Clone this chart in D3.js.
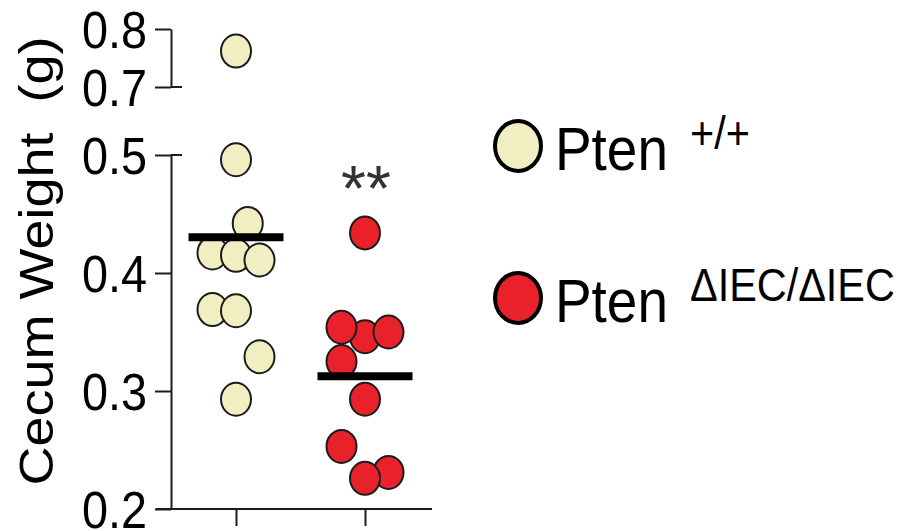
<!DOCTYPE html>
<html>
<head>
<meta charset="utf-8">
<script src="https://cdn.jsdelivr.net/npm/d3@7"></script>
<style>
  html, body { margin: 0; padding: 0; background: #fff; }
  text { font-family: "Liberation Sans", Arial, sans-serif; }
</style>
</head>
<body>
<div id="chart"></div>
<script>
// cecum weight (g), listed in drawing order
var groups = ["Pten +/+", "Pten ΔIEC/ΔIEC"];
var wtValues = [0.762, 0.496, 0.442, 0.417, 0.415, 0.411, 0.369, 0.368, 0.329, 0.293];
var wtSlots  = [0, 0, 0.5, -1, 0, 1, -1, 0, 1, 0];
var koValues = [0.434, 0.346, 0.354, 0.350, 0.325, 0.293, 0.253, 0.231, 0.226];
var koSlots  = [0, 0, -1, 1, -1, 0, -1, 1, 0];
var lowTicks = [0.2, 0.3, 0.4, 0.5];
var highTicks = [0.7, 0.8];
var legendSup = ["+/+", "ΔIEC/ΔIEC"];
var fills = ["#f1efc1", "#e8212a"];

var W = 899, H = 531;
var ink = "#1c1c1c";
var sx = 0.9; // glyphs in the figure are a bit narrow

var svg = d3.select("#chart").append("svg")
  .attr("width", W).attr("height", H);

// broken y axis: two linear pieces
var yLow = d3.scaleLinear().domain([0.2, 0.5]).range([509, 155]);
var yHigh = d3.scaleLinear().domain([0.7, 0.8]).range([87, 29]);
function y(v){ return v >= 0.6 ? yHigh(v) : yLow(v); }

var x = d3.scalePoint().domain(groups).range([236, 365]);
var slotW = 23.5;

var axisX = 171;

function styleAxis(g){
  g.select(".domain").attr("stroke", ink).attr("stroke-width", 2);
  g.selectAll(".tick line").attr("stroke", ink).attr("stroke-width", 2);
  g.selectAll(".tick text")
    .attr("fill", "#000")
    .attr("font-size", 52)
    .attr("dy", "0.355em")
    .attr("x", -24 / sx)
    .attr("transform", "scale(" + sx + ",1)");
}

var fmt = d3.format(".1f");
svg.append("g")
  .attr("transform", "translate(" + axisX + ",0)")
  .call(d3.axisLeft(yLow).tickValues(lowTicks).tickSize(16).tickSizeOuter(0).tickFormat(fmt))
  .call(styleAxis);

svg.append("g")
  .attr("transform", "translate(" + axisX + ",0)")
  .call(d3.axisLeft(yHigh).tickValues(highTicks).tickSize(16).tickSizeOuter(0).tickFormat(fmt))
  .call(styleAxis);

// break caps on the inside of the axis
[yLow(0.5), yHigh(0.7)].forEach(function(cy){
  svg.append("line")
    .attr("x1", axisX).attr("x2", axisX + 11)
    .attr("y1", cy).attr("y2", cy)
    .attr("stroke", ink).attr("stroke-width", 2);
});

// x axis
var gx = svg.append("g")
  .attr("transform", "translate(0," + yLow(0.2) + ")")
  .call(d3.axisBottom(x).tickSize(17).tickSizeOuter(0).tickFormat(""));
gx.select(".domain").remove();
gx.selectAll(".tick line").attr("stroke", ink).attr("stroke-width", 2);
svg.append("line")
  .attr("x1", 156).attr("x2", 432)
  .attr("y1", yLow(0.2)).attr("y2", yLow(0.2))
  .attr("stroke", ink).attr("stroke-width", 2);

// y title
svg.append("text")
  .attr("transform", "translate(53,261) scale(" + sx + ",1) rotate(-90)")
  .attr("text-anchor", "middle")
  .attr("font-size", 54)
  .style("white-space", "pre")
  .text("Cecum Weight  (g)");

// points
var series = [
  { name: groups[0], values: wtValues, slots: wtSlots, fill: fills[0] },
  { name: groups[1], values: koValues, slots: koSlots, fill: fills[1] }
];

series.forEach(function(s){
  var pts = s.values.map(function(v, i){ return { v: v, slot: s.slots[i] }; });
  svg.append("g").selectAll("ellipse")
    .data(pts)
    .enter().append("ellipse")
    .attr("cx", function(d){ return x(s.name) + d.slot * slotW; })
    .attr("cy", function(d){ return y(d.v); })
    .attr("rx", 15)
    .attr("ry", 16.5)
    .attr("fill", s.fill)
    .attr("stroke", ink)
    .attr("stroke-width", 2);

  // mean bar
  var m = d3.mean(s.values);
  svg.append("line")
    .attr("x1", x(s.name) - 47.5).attr("x2", x(s.name) + 47.5)
    .attr("y1", y(m)).attr("y2", y(m))
    .attr("stroke", "#000").attr("stroke-width", 8);
});

// significance
svg.append("text")
  .attr("x", x(groups[1]) + 1).attr("y", 211)
  .attr("text-anchor", "middle")
  .attr("font-size", 64)
  .attr("fill", "#333")
  .text("**");

// legend
var legY = [146, 298];
series.forEach(function(s, i){
  var g = svg.append("g");
  g.append("ellipse")
    .attr("cx", 518).attr("cy", legY[i])
    .attr("rx", 23).attr("ry", 25)
    .attr("fill", s.fill)
    .attr("stroke", "#000")
    .attr("stroke-width", 4);
  g.append("text")
    .attr("transform", "translate(555," + (legY[i] + 23.5) + ") scale(" + sx + ",1)")
    .attr("font-size", 61)
    .text("Pten");
  g.append("text")
    .attr("transform", "translate(690," + (legY[i] + 3) + ") scale(" + sx + ",1)")
    .attr("font-size", 46)
    .text(legendSup[i]);
});
</script>
</body>
</html>
